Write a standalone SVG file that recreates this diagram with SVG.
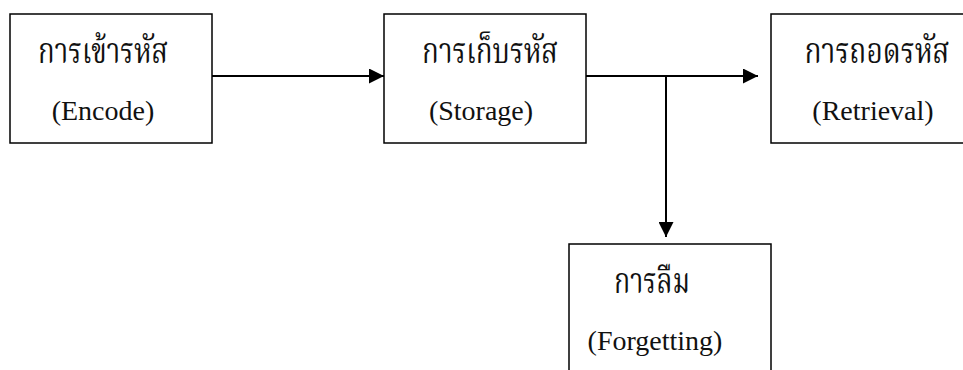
<svg xmlns="http://www.w3.org/2000/svg" width="963" height="370" viewBox="0 0 963 370">
  <style>
    .box { fill: #fff; stroke: #000; stroke-width: 1.5; }
    .link { fill: none; stroke: #000; stroke-width: 2; }
    .th { font-family: "Liberation Serif", "Noto Serif Thai", "Noto Sans Thai", "DejaVu Serif", serif; font-size: 35px; fill: #111; text-anchor: middle; }
    .en { font-family: "Liberation Serif", "Times New Roman", serif; font-size: 28px; fill: #111; text-anchor: middle; }
  </style>
  <defs>
    <marker id="arrow" viewBox="0 0 15 15" refX="15" refY="7.5" markerWidth="15" markerHeight="15" markerUnits="userSpaceOnUse" orient="auto">
      <path d="M0,0 L15,7.5 L0,15 Z" fill="#000"/>
    </marker>
  </defs>
  <rect width="963" height="370" fill="#fff"/>

  <g id="connectors">
    <line class="link" x1="212" y1="76" x2="384" y2="76" marker-end="url(#arrow)"/>
    <line class="link" x1="586" y1="76" x2="758" y2="76" marker-end="url(#arrow)"/>
    <line class="link" x1="666" y1="76" x2="666" y2="237" marker-end="url(#arrow)"/>
  </g>

  <g id="encode">
    <rect class="box" x="10" y="14" width="202" height="129"/>
    <text class="th" x="103" y="63" textLength="130" lengthAdjust="spacingAndGlyphs">การเข้ารหัส</text>
    <text class="en" x="103" y="120">(Encode)</text>
  </g>

  <g id="storage">
    <rect class="box" x="384" y="14" width="202" height="129"/>
    <text class="th" x="490" y="63" textLength="136" lengthAdjust="spacingAndGlyphs">การเก็บรหัส</text>
    <text class="en" x="481" y="120">(Storage)</text>
  </g>

  <g id="retrieval">
    <rect class="box" x="771" y="14" width="202" height="129"/>
    <text class="th" x="877" y="63" textLength="145" lengthAdjust="spacingAndGlyphs">การถอดรหัส</text>
    <text class="en" x="873" y="120">(Retrieval)</text>
  </g>

  <g id="forgetting">
    <rect class="box" x="569" y="244" width="202" height="129"/>
    <text class="th" x="652" y="293" textLength="76" lengthAdjust="spacingAndGlyphs">การลืม</text>
    <text class="en" x="655" y="350">(Forgetting)</text>
  </g>
</svg>
